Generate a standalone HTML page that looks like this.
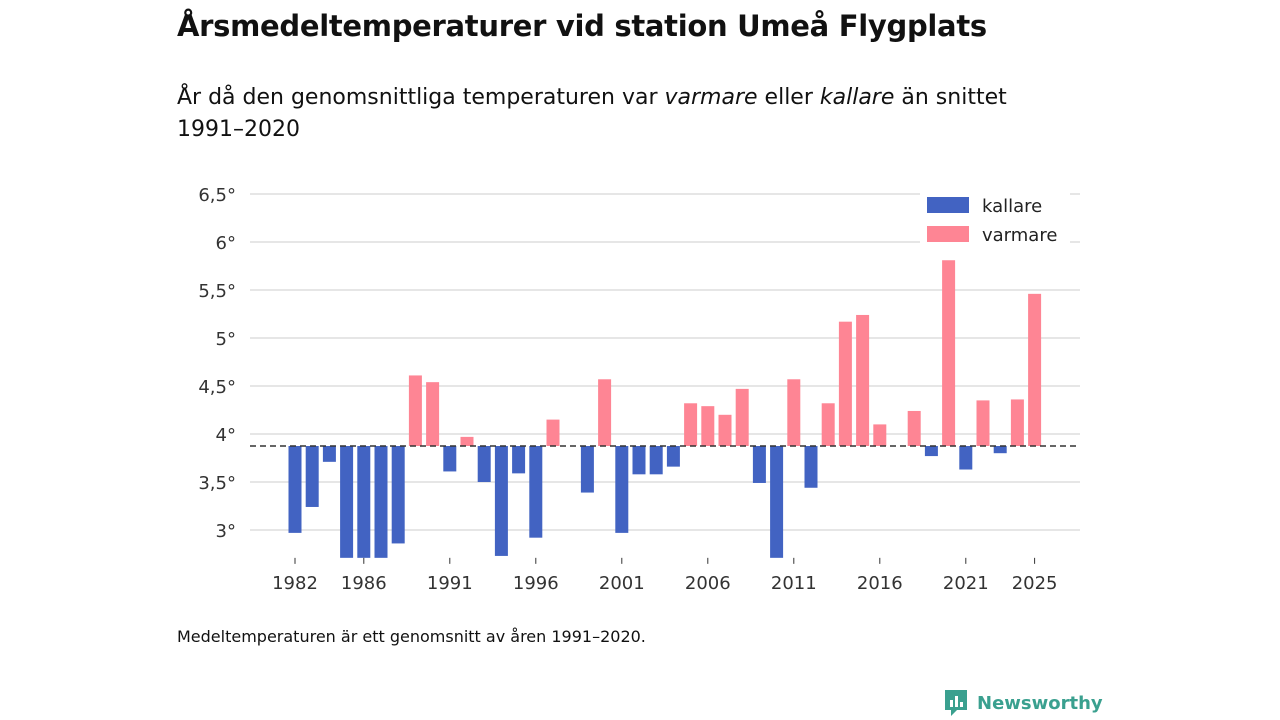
<!DOCTYPE html>
<html><head><meta charset="utf-8">
<style>
body{margin:0;width:1280px;height:720px;background:#fff;font-family:"DejaVu Sans","Liberation Sans",sans-serif;color:#111;overflow:hidden;position:relative}
h1{position:absolute;left:177px;top:9px;margin:0;font-size:29px;font-weight:bold;letter-spacing:-0.3px}
.sub{position:absolute;left:177px;top:82px;font-size:22px;line-height:32px;width:950px}
.note{position:absolute;left:177px;top:627px;font-size:16px}
.logo{position:absolute;left:943px;top:688px;font-size:18px;font-weight:bold;color:#3aa08f;display:flex;align-items:center;gap:8px}
</style></head><body>
<h1>Årsmedeltemperaturer vid station Umeå Flygplats</h1>
<div class="sub">År då den genomsnittliga temperaturen var <i>varmare</i> eller <i>kallare</i> än snittet<br>1991–2020</div>
<svg id="chart" width="1280" height="720" style="position:absolute;left:0;top:0;font-family:'DejaVu Sans',sans-serif"></svg>
<div class="note">Medeltemperaturen är ett genomsnitt av åren 1991–2020.</div>
<div class="logo"><svg width="26" height="30"><path d="M2 2h22v20h-10l-6 6v-6H2z" fill="#3aa08f"/><rect x="7" y="12" width="3" height="7" fill="#fff"/><rect x="12" y="8" width="3" height="11" fill="#fff"/><rect x="17" y="14" width="3" height="5" fill="#fff"/></svg><span>Newsworthy</span></div>
<script>
const years=[1982,1983,1984,1985,1986,1987,1988,1989,1990,1991,1992,1993,1994,1995,1996,1997,1999,2000,2001,2002,2003,2004,2005,2006,2007,2008,2009,2010,2011,2012,2013,2014,2015,2016,2018,2019,2020,2021,2022,2023,2024,2025];
const temps=[2.97,3.24,3.71,2.6,2.6,2.6,2.86,4.61,4.54,3.61,3.97,3.50,2.73,3.59,2.92,4.15,3.39,4.57,2.97,3.58,3.58,3.66,4.32,4.29,4.20,4.47,3.49,2.6,4.57,3.44,4.32,5.17,5.24,4.10,4.24,3.77,5.81,3.63,4.35,3.80,4.36,5.46];
const yTicks=[3,3.5,4,4.5,5,5.5,6,6.5];
const xTickYears=[1982,1986,1991,1996,2001,2006,2011,2016,2021,2025];
const avg=3.875;
const svg=document.getElementById('chart');
const NS='http://www.w3.org/2000/svg';
const yMin=2.71;
function y(v){return 434-(v-4)*96;}
function x(yr){return 295+(yr-1982)*17.2;}
function mk(t,a){const e=document.createElementNS(NS,t);for(const k in a)e.setAttribute(k,a[k]);svg.appendChild(e);return e;}
yTicks.forEach(v=>{
  const l=mk('line',{x1:250,x2:1080,y1:y(v),y2:y(v),stroke:'#ddd','stroke-width':1.5});
  
  
  const t=mk('text',{x:236,y:y(v)+7,'text-anchor':'end','font-size':18,fill:'#333'});
  t.textContent=String(v).replace('.',',')+'°';
  
  
});
years.forEach((yr,i)=>{
  const v=Math.max(temps[i],yMin);
  const warm=temps[i]>avg;
  const top=warm?y(v):y(avg), bot=warm?y(avg):y(v);
  const r=mk('rect',{x:x(yr)-6.5,y:top,width:13,height:bot-top,fill:warm?'#fe8594':'#4263c2'});
  
  
});
const al=mk('line',{x1:250,x2:1080,y1:y(avg),y2:y(avg),stroke:'#333','stroke-width':1.5,'stroke-dasharray':'6,4'});


xTickYears.forEach(yr=>{
  const tk=mk('line',{x1:x(yr),x2:x(yr),y1:y(yMin),y2:y(yMin)+6,stroke:'#333','stroke-width':1});
  
  
  const t=mk('text',{x:x(yr),y:y(yMin)+31,'text-anchor':'middle','font-size':18,fill:'#333'});
  t.textContent=yr;
  
  
});
const lb=mk('rect',{x:920,y:190,width:150,height:60,fill:'#fff'});


[['kallare','#4263c2',205],['varmare','#fe8594',234]].forEach(([n,c,yy])=>{
  const s=mk('rect',{x:927,y:yy-8,width:42,height:16,fill:c});
  
  
  const t=mk('text',{x:982,y:yy+7,'font-size':18,fill:'#222'});
  t.textContent=n;
  
  
});
</script>
</body></html>
